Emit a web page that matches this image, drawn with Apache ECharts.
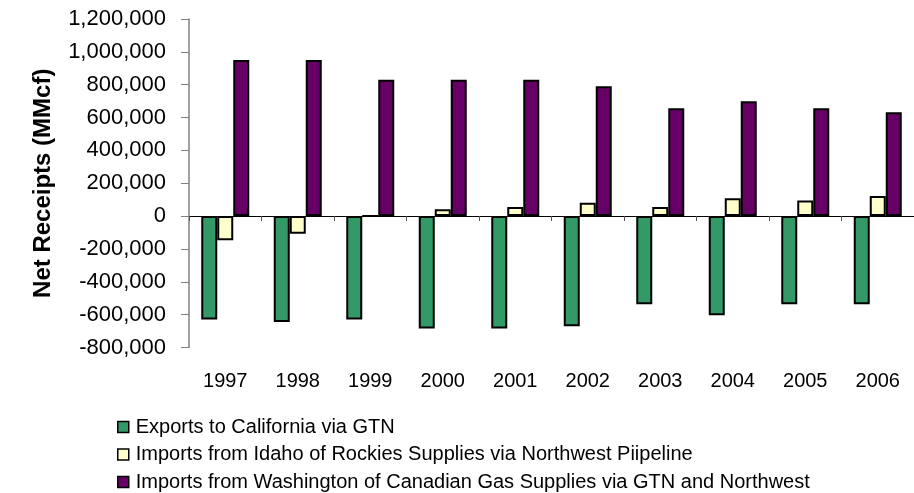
<!DOCTYPE html>
<html>
<head>
<meta charset="utf-8">
<script src="https://cdn.jsdelivr.net/npm/echarts@6/dist/echarts.min.js"></script>
<style>
    html, body { margin: 0; padding: 0; background: #fff; }
    #chart { width: 914px; height: 493px; }
</style>
</head>
<body>
<div id="chart"></div>
<script>
const years = ['1997', '1998', '1999', '2000', '2001', '2002', '2003', '2004', '2005', '2006'];
const exportsCalifornia = [-630000, -645000, -630000, -685000, -685000, -670000, -537000, -604000, -537000, -537000];
const importsIdaho = [-147000, -107000, 0, 42000, 55000, 81000, 55000, 109000, 95000, 123000];
const importsWashington = [951000, 951000, 830000, 830000, 830000, 790000, 657000, 699000, 657000, 632000];

const seriesNames = [
    'Exports to California via GTN',
    'Imports from Idaho of Rockies Supplies via Northwest Piipeline',
    'Imports from Washington of Canadian Gas Supplies via GTN and Northwest'
];
const seriesColors = ['#339966', '#FFFFCC', '#660066'];

const FONT = '"Liberation Sans", Arial, sans-serif';

const chart = echarts.init(document.getElementById('chart'));

function barSeries(idx, data) {
    return {
        name: seriesNames[idx],
        type: 'bar',
        xAxisIndex: 0,
        data: data,
        barWidth: 16,
        barGap: '0%',
        itemStyle: { color: seriesColors[idx], borderColor: '#000', borderWidth: 2 }
    };
}

chart.setOption({
    backgroundColor: '#fff',
    animation: false,
    textStyle: { fontFamily: FONT },
    grid: { left: 189, right: -4, top: 19, bottom: 145.5 },
    legend: {
        orient: 'vertical',
        left: 117,
        top: 417,
        height: 120,
        padding: 0,
        itemWidth: 11,
        itemHeight: 11,
        itemGap: 7.5,
        icon: 'rect',
        itemStyle: { borderColor: '#000', borderWidth: 1.5 },
        textStyle: { fontSize: 20, color: '#000', fontFamily: FONT, padding: [0, 0, 0, 2] },
        data: seriesNames
    },
    xAxis: [
        {
            type: 'category',
            data: years,
            position: 'bottom',
            axisLine: { show: false, onZero: false },
            axisTick: { show: false },
            axisLabel: { color: '#000', fontSize: 20, margin: 24, fontFamily: FONT }
        },
        {
            type: 'category',
            data: years,
            position: 'top',
            axisLine: { show: true, onZero: true, lineStyle: { color: '#000', width: 1 } },
            axisTick: { show: true, inside: true, length: 5, lineStyle: { color: '#555' } },
            axisLabel: { show: false }
        }
    ],
    yAxis: {
        type: 'value',
        min: -800000,
        max: 1200000,
        interval: 200000,
        name: 'Net Receipts (MMcf)',
        nameLocation: 'middle',
        nameGap: 134,
        nameTextStyle: { fontSize: 24, fontWeight: 'bold', color: '#000', fontFamily: FONT },
        axisLine: { show: true, lineStyle: { color: '#808080', width: 1.5 } },
        axisTick: { show: true, length: 8, lineStyle: { color: '#808080' } },
        splitLine: { show: false },
        axisLabel: {
            color: '#000',
            fontSize: 22,
            margin: 23,
            fontFamily: FONT,
            formatter: v => Number(v).toLocaleString('en-US')
        }
    },
    series: [
        barSeries(0, exportsCalifornia),
        barSeries(1, importsIdaho),
        barSeries(2, importsWashington)
    ]
});
</script>
</body>
</html>
